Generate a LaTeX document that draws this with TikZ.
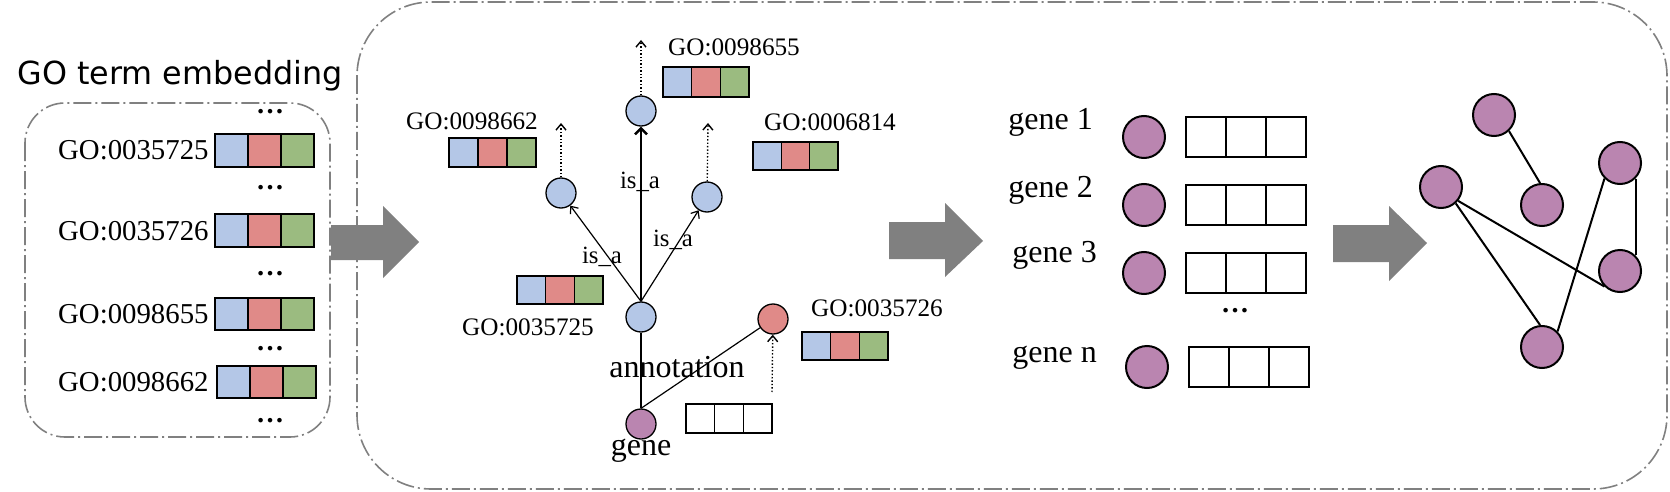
\documentclass[tikz,border=0pt]{standalone}
\usepackage{fontspec}
\setmainfont{Liberation Serif}
\newfontfamily\titlefont{DejaVu Sans}
\usetikzlibrary{arrows.meta}
\definecolor{cblue}{HTML}{B4C7E7}
\definecolor{cred}{HTML}{E08A88}
\definecolor{cgreen}{HTML}{9BBB80}
\definecolor{cpurple}{HTML}{BA85B0}
\definecolor{carrow}{HTML}{808080}
\definecolor{cframe}{HTML}{808080}
\newcommand{\embvec}[5]{%
  \foreach \c [count=\i from 0] in {cblue,cred,cgreen}
    \draw[fill=\c, line width=#5] (#1+\i*#3, #2) rectangle ++(#3, #4);
}
\newcommand{\blankvec}[5]{%
  \foreach \i in {0,1,2}
    \draw[fill=white, line width=#5] (#1+\i*#3, #2) rectangle ++(#3, #4);
}
\tikzset{
  frame/.style={draw=cframe, line width=0.8pt, dash pattern=on 9pt off 2pt on 1pt off 2pt},
  biglabel/.style={font=\fontsize{14.4}{16}\selectfont, inner sep=0pt},
  golabel/.style={font=\fontsize{12.6}{14}\selectfont, inner sep=0pt},
  genelabel/.style={font=\fontsize{16}{18}\selectfont, inner sep=0pt},
  isalabel/.style={font=\fontsize{12.4}{14}\selectfont, inner sep=0pt},
  dots/.style={font=\fontsize{14}{16}\selectfont\bfseries, inner sep=0pt},
  treenode/.style={circle, draw, line width=0.65pt, minimum size=15pt, inner sep=0pt},
  gnode/.style={circle, draw, fill=cpurple, line width=1pt, minimum size=21pt, inner sep=0pt},
  dotarrow/.style={densely dotted, line width=0.7pt, -{Straight Barb[length=3pt,width=5pt]}},
  thinarrow/.style={line width=0.6pt, -{Straight Barb[length=3pt,width=5pt]}},
  thickarrow/.style={line width=1.2pt, -{Straight Barb[length=3pt,width=6pt]}},
  gedge/.style={line width=1pt}
}
\begin{document}
\begin{tikzpicture}[x=0.5pt,y=-0.5pt]
\useasboundingbox (0,0) rectangle (1670,492);

% frames
\draw[frame, rounded corners=20pt] (25,103) rectangle (330,437);
\draw[frame, rounded corners=37pt] (357,2) rectangle (1667,489);

% title
\node[font=\titlefont\fontsize{15.9}{18}\selectfont, anchor=base west, inner sep=0pt] (title) at (17,85) {GO term embedding};

% left list
\node[dots, anchor=base] (ld0) at (270,114) {…};
\node[biglabel, anchor=east] (l1) at (209,150) {GO:0035725};
\embvec{215}{134}{33}{33}{1pt}
\node[dots, anchor=base] (ld1) at (270,189) {…};
\node[biglabel, anchor=east] (l2) at (209,231) {GO:0035726};
\embvec{215}{214}{33}{33}{1pt}
\node[dots, anchor=base] (ld2) at (270,275) {…};
\node[biglabel, anchor=east] (l3) at (209,314) {GO:0098655};
\embvec{215}{298}{33}{32}{1pt}
\node[dots, anchor=base] (ld3) at (270,350) {…};
\node[biglabel, anchor=east] (l4) at (209,382) {GO:0098662};
\embvec{217}{366}{33}{32}{1pt}
\node[dots, anchor=base] (ld4) at (270,422) {…};

% big arrows
\fill[carrow] (331,225) -- (383,225) -- (383,206) -- (419,242) -- (383,278) -- (383,260) -- (331,260) -- cycle;
\fill[carrow] (889,222) -- (945,222) -- (945,203) -- (983,241) -- (945,277) -- (945,259) -- (889,259) -- cycle;
\fill[carrow] (1333,225) -- (1389,225) -- (1389,206) -- (1427,243) -- (1389,281) -- (1389,262) -- (1333,262) -- cycle;

% tree
\node[treenode, fill=cblue] (t0) at (641,111) {};
\node[treenode, fill=cblue] (tl) at (561,193) {};
\node[treenode, fill=cblue] (tr) at (707,197) {};
\node[treenode, fill=cblue] (tc) at (641,317) {};
\node[treenode, fill=cred] (tred) at (773,319) {};
\node[treenode, fill=cpurple] (tg) at (641,424) {};

\coordinate (t0up) at (641,40);
\coordinate (tlup) at (561,123);
\coordinate (trup) at (708,123);
\coordinate (tredsrc) at (772,392);

\draw[dotarrow] (t0) -- (t0up);
\draw[dotarrow] (tl) -- (tlup);
\draw[dotarrow] (tr) -- (trup);
\draw[dotarrow] (tredsrc) -- (tred);

\draw[thickarrow] (tc) -- (t0);
\draw[thinarrow] (tc.north) -- (tl);
\draw[thinarrow] (tc.north) -- (tr);
\draw[line width=1.2pt] (tg) -- (tc);
\draw[line width=0.6pt] (tg.north) -- (tred);

\node[isalabel] (isa0) at (640,182) {is\_a};
\node[isalabel] (isa1) at (602,257) {is\_a};
\node[isalabel] (isa2) at (673,240) {is\_a};

\node[golabel] (g98655) at (734,47) {GO:0098655};
\embvec{663}{67}{28.7}{30}{0.7pt}
\node[golabel] (g98662) at (472,121) {GO:0098662};
\embvec{449}{138}{29}{29}{0.7pt}
\node[golabel] (g06814) at (830,122) {GO:0006814};
\embvec{753}{142}{28.3}{28}{0.7pt}
\node[golabel] (g35725) at (528,327) {GO:0035725};
\embvec{517}{276}{28.7}{28}{0.7pt}
\node[golabel] (g35726) at (877,308) {GO:0035726};
\embvec{802}{332}{28.7}{28}{0.7pt}
\blankvec{686}{404}{28.7}{29}{0.7pt}

\node[genelabel] (annot) at (677,367) {annotation};
\node[genelabel] (genet) at (641,451) {gene};

% gene panel
\node[genelabel, anchor=base west] (gl1) at (1008,130) {gene 1};
\node[genelabel, anchor=base west] (gl2) at (1008,198) {gene 2};
\node[genelabel, anchor=base west] (gl3) at (1012,262) {gene 3};
\node[genelabel, anchor=base west] (gln) at (1012,362) {gene n};
\node[gnode] (gn1) at (1144,137) {};
\node[gnode] (gn2) at (1144,205) {};
\node[gnode] (gn3) at (1144,273) {};
\node[gnode] (gnn) at (1147,367) {};
\blankvec{1186}{117}{40}{40}{1pt}
\blankvec{1186}{185}{40}{40}{1pt}
\blankvec{1186}{253}{40}{40}{1pt}
\blankvec{1189}{347}{40}{40}{1pt}
\node[dots, anchor=base] (gd) at (1235,312) {…};

% graph
\node[gnode] (A) at (1494,115) {};
\node[gnode] (B) at (1441,187) {};
\node[gnode] (C) at (1542,205) {};
\node[gnode] (D) at (1620,163) {};
\node[gnode] (E) at (1620,271) {};
\node[gnode] (F) at (1542,347) {};
\draw[gedge] (A.-47) -- (C.95);
\draw[gedge] (B.-39) -- (E.225);
\draw[gedge] (B.-48) -- (F.95);
\draw[gedge] (F.45) -- (D.225);
\draw[gedge] (D.-45) -- (E.45);
\end{tikzpicture}
\end{document}
